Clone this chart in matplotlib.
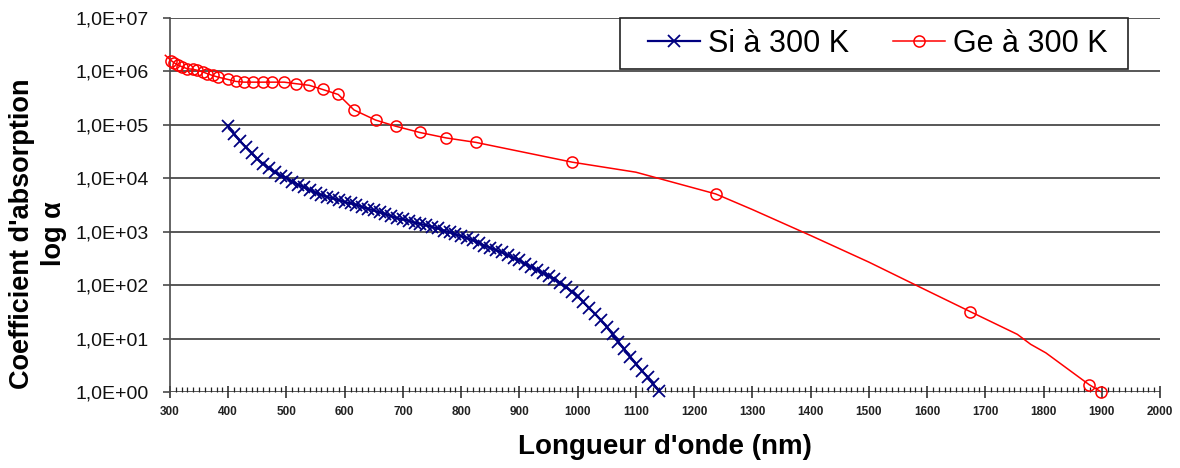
import math
import matplotlib
matplotlib.use("Agg")
import matplotlib.pyplot as plt
from matplotlib.patches import Rectangle
from matplotlib.ticker import FixedLocator, FuncFormatter, MultipleLocator

# ---------------- data ----------------
si_wavelength = list(range(400, 1141, 10))
si_alpha = [9.5e4, 6.8e4, 5.0e4, 3.8e4, 2.95e4, 2.3e4, 1.86e4, 1.55e4, 1.29e4, 1.12e4,
            1.02e4, 8.7e3, 7.6e3, 6.8e3, 6.0e3, 5.4e3, 4.9e3, 4.5e3, 4.2e3, 3.9e3,
            3.6e3, 3.4e3, 3.2e3, 2.9e3, 2.7e3, 2.5e3, 2.3e3, 2.15e3, 1.95e3, 1.8e3,
            1.7e3, 1.6e3, 1.48e3, 1.4e3, 1.32e3, 1.23e3, 1.15e3, 1.05e3, 980, 890,
            830, 760, 690, 620, 550, 500, 450, 410, 360, 320,
            290, 250, 220, 195, 170, 148, 132, 110, 91, 76,
            62, 48, 37, 29, 22, 16.6, 12, 8.7, 6.3, 4.6,
            3.4, 2.5, 1.9, 1.4, 1.05]

ge_wavelength = [292, 302, 307, 313, 320, 330, 339, 347, 356, 364, 373, 383, 399, 413,
                 427, 442, 459, 476, 496, 516, 539, 562, 589, 616, 653, 688, 729, 774,
                 825, 991, 1100, 1237, 1300, 1400, 1500, 1600, 1674, 1755, 1778, 1804,
                 1878, 1898]
ge_alpha = [2.0e6, 1.6e6, 1.45e6, 1.33e6, 1.23e6, 1.12e6, 1.1e6, 1.05e6, 9.8e5, 9.1e5,
            8.4e5, 7.8e5, 7.1e5, 6.5e5, 6.3e5, 6.3e5, 6.3e5, 6.3e5, 6.3e5, 5.9e5,
            5.5e5, 4.6e5, 3.7e5, 1.9e5, 1.23e5, 9.4e4, 7.2e4, 5.7e4, 4.7e4, 2.0e4,
            1.3e4, 5.1e3, 2.6e3, 850, 270, 79, 32, 12, 7.8, 5.4, 1.38, 1.02]
# points of the Ge series that carry a circle marker
ge_marked = [1, 2, 3, 4, 5, 6, 7, 8, 9, 10, 11, 12, 13, 14, 15, 16, 17, 18, 19, 20,
             21, 22, 23, 24, 25, 26, 27, 28, 29, 31, 36, 40, 41]

si_label = "Si à 300 K"
ge_label = "Ge à 300 K"
x_ticks = list(range(300, 2001, 100))
y_ticks = [1e0, 1e1, 1e2, 1e3, 1e4, 1e5, 1e6, 1e7]
x_title = "Longueur d'onde (nm)"
y_title = "Coefficient d'absorption\nlog α"

# ---------------- figure ----------------
W, H = 1180, 468
AX_L, AX_R, AX_T, AX_B = 170, 1160, 18, 392
fig = plt.figure(figsize=(W / 100, H / 100), dpi=100)
ax = fig.add_axes([AX_L / W, 1 - AX_B / H, (AX_R - AX_L) / W, (AX_B - AX_T) / H])

ax.set_yscale("log")
ax.set_xlim(300, 2000)
ax.set_ylim(1, 1e7)

grid_color = "#4a4a4a"
for yv in y_ticks:
    ax.axhline(yv, color=grid_color, lw=1.3, zorder=1)

ax.plot(si_wavelength, si_alpha, color="#000080", lw=1.6, marker="x",
        markersize=9, markeredgewidth=1.3, label=si_label, zorder=3, clip_on=False)
ax.plot(ge_wavelength, ge_alpha, color="#ff0000", lw=1.1, marker="o",
        markersize=8, markerfacecolor="none", markeredgewidth=1.1,
        markevery=ge_marked, label=ge_label, zorder=3, clip_on=False)

for s in ["top", "right", "bottom"]:
    ax.spines[s].set_visible(False)
ax.spines["left"].set_color(grid_color)
ax.spines["left"].set_linewidth(1.2)

# y axis
ax.yaxis.set_major_locator(FixedLocator(y_ticks))
ax.yaxis.set_minor_locator(FixedLocator([]))
ax.yaxis.set_major_formatter(FuncFormatter(
    lambda v, p: "1,0E+%02d" % round(math.log10(v))))
ax.tick_params(axis="y", which="major", direction="out", length=5, width=1.2,
               color=grid_color, pad=10, labelsize=14, labelcolor="#111111")
for t in ax.get_yticklabels():
    t.set_family(["Liberation Sans", "DejaVu Sans"])

# x axis
ax.xaxis.set_major_locator(FixedLocator(x_ticks))
ax.xaxis.set_minor_locator(MultipleLocator(10))
ax.tick_params(axis="x", which="major", direction="inout", length=8, width=1.1,
               color="#222222", pad=6, labelsize=8.5, labelcolor="#222222")
ax.tick_params(axis="x", which="minor", direction="in", length=3.5, width=0.9,
               color="#222222")
for t in ax.get_xticklabels():
    t.set_family(["Liberation Sans Narrow", "Liberation Sans", "DejaVu Sans"])
    t.set_fontweight("bold")

# titles
fig.text(665 / W, 1 - 447 / H, x_title, ha="center", va="center",
         fontsize=20, fontweight="bold", family=["Liberation Sans", "DejaVu Sans"])
fig.text(38 / W, 1 - 234 / H, y_title, ha="center", va="center", rotation=90,
         multialignment="center", fontsize=19.5, fontweight="bold",
         linespacing=1.3, family=["Liberation Sans", "DejaVu Sans"])

# legend: frame drawn as a rectangle, entries placed without frame
axw, axh = AX_R - AX_L, AX_B - AX_T
box_l, box_r, box_t, box_b = 620, 1128, 18, 69
ax.add_patch(Rectangle(((box_l - AX_L) / axw, (AX_B - box_b) / axh),
                       (box_r - box_l) / axw, (box_b - box_t) / axh,
                       transform=ax.transAxes, facecolor="white",
                       edgecolor="#222222", lw=1.2, zorder=5, clip_on=False))
leg = ax.legend(loc="center left",
                bbox_to_anchor=((648 - AX_L) / axw, (AX_B - 43.5) / axh),
                ncol=2, frameon=False,
                prop={"family": ["Liberation Sans", "DejaVu Sans"], "size": 22},
                borderpad=0, handlelength=1.7, handletextpad=0.26,
                columnspacing=1.45, borderaxespad=0)
leg.set_zorder(6)

fig.savefig("out.png", dpi=100, facecolor="white")
